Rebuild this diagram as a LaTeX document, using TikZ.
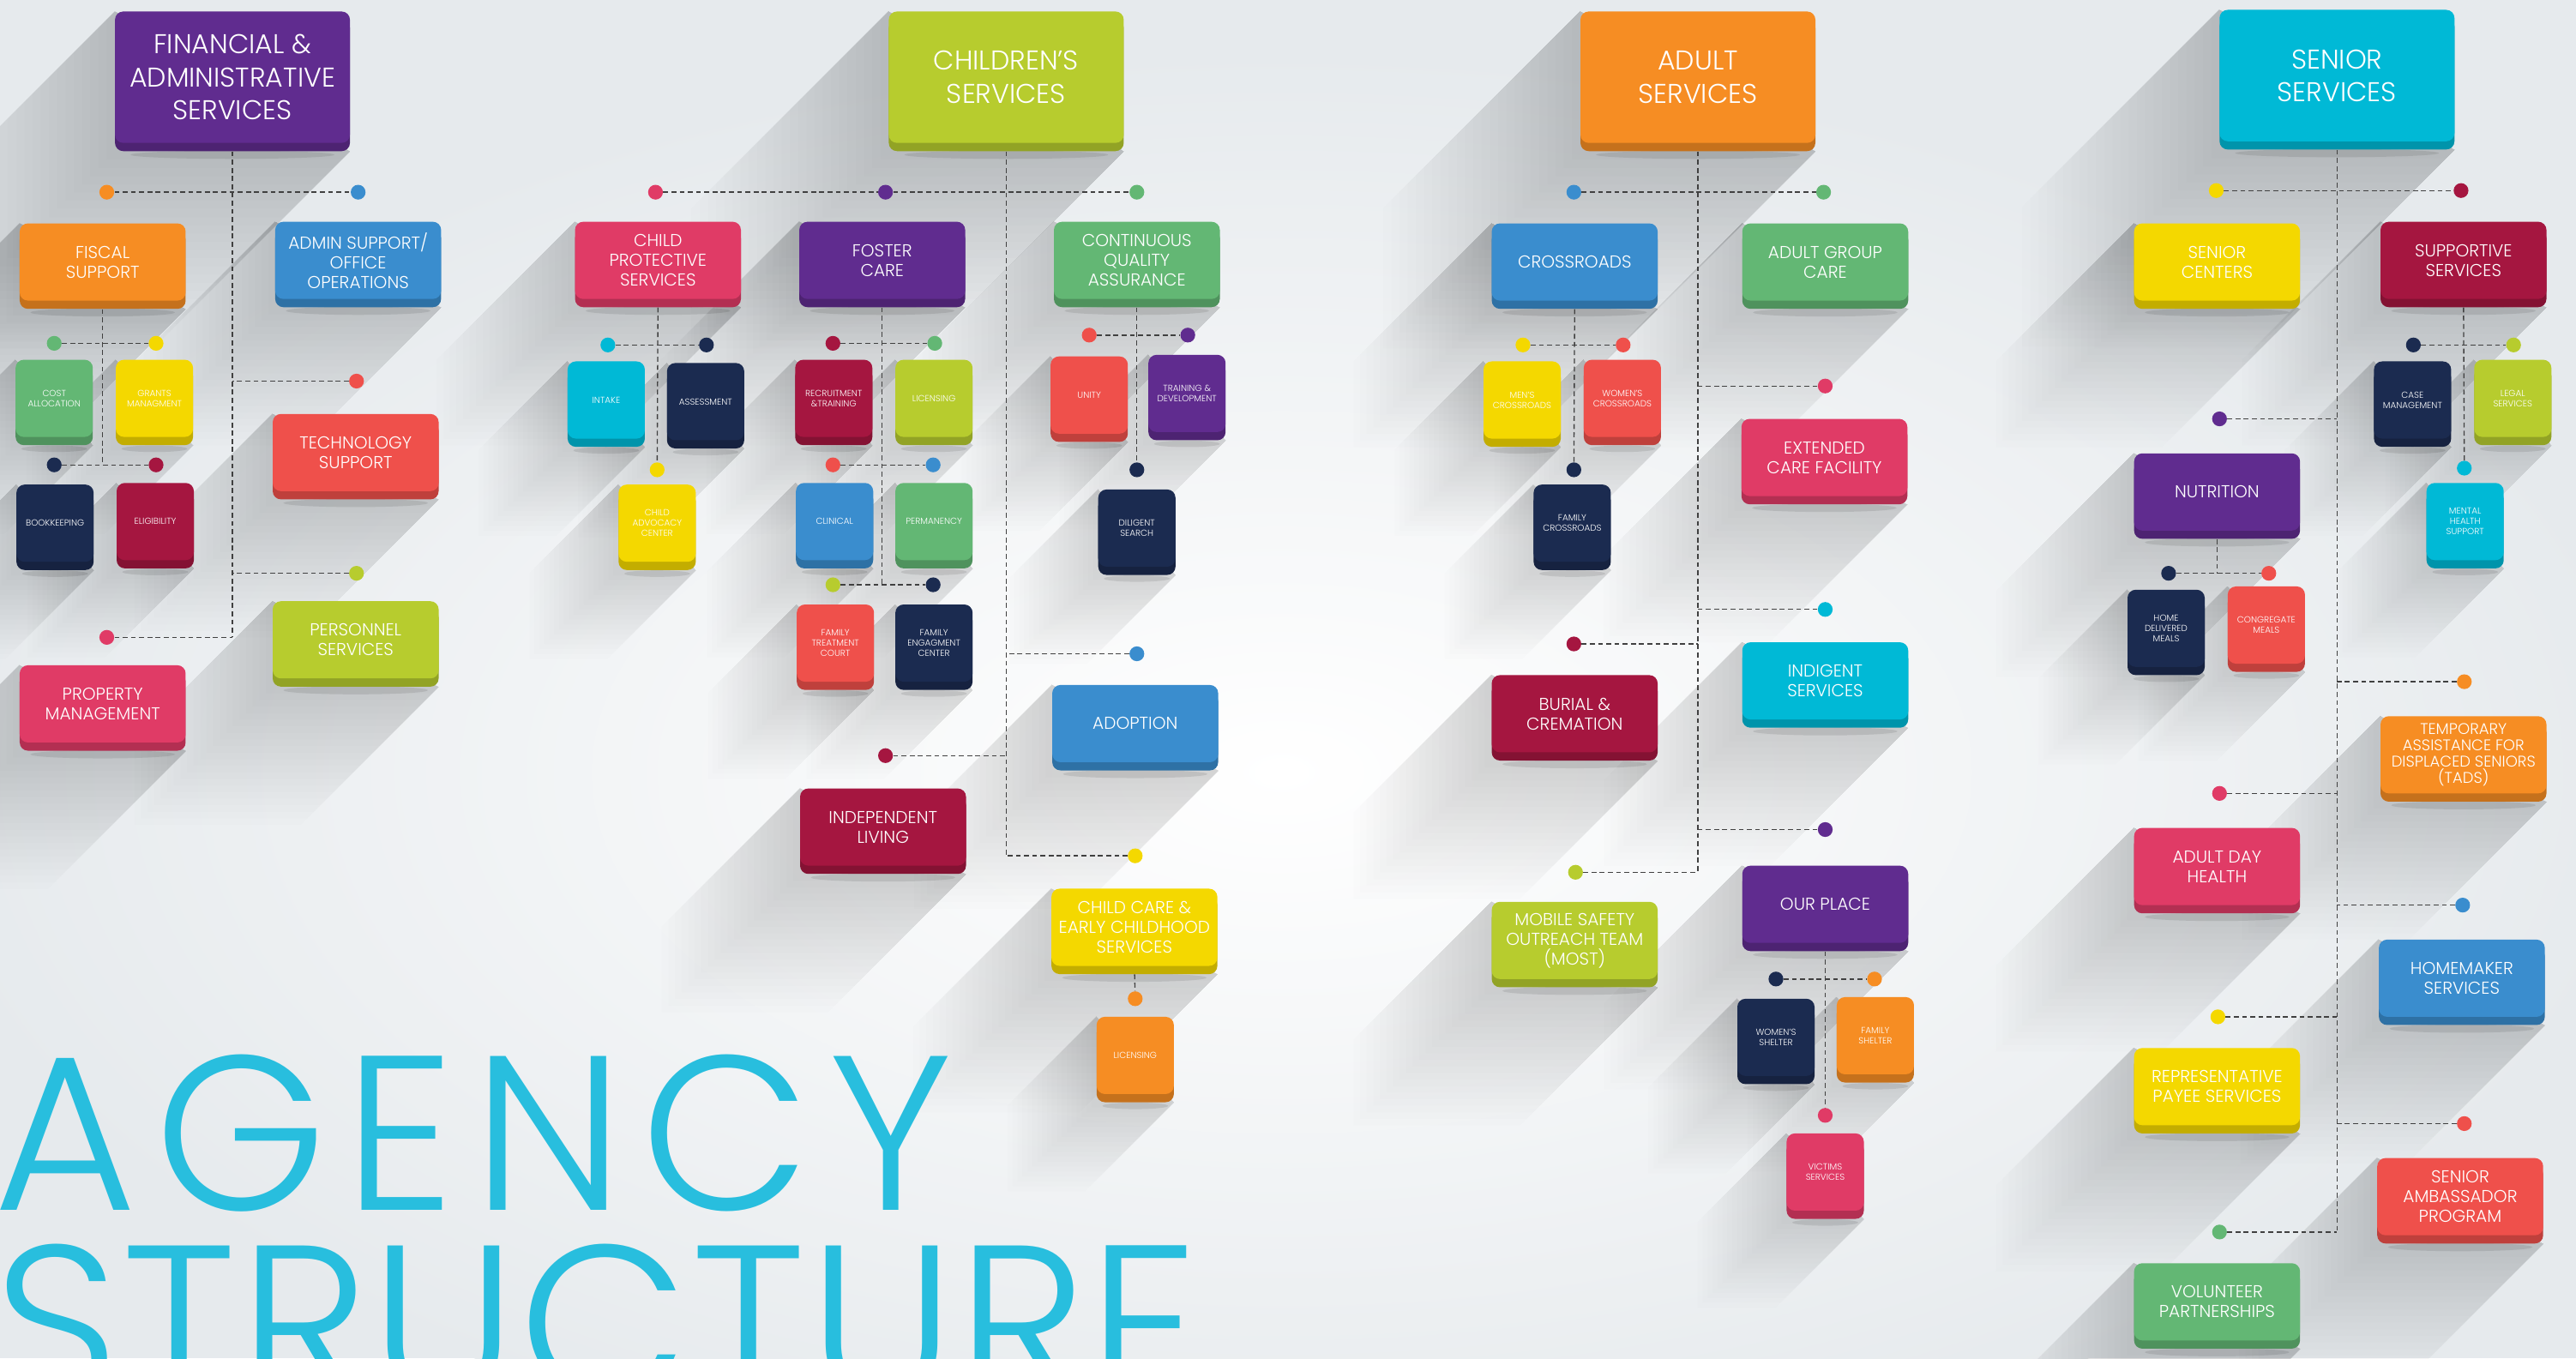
\documentclass[tikz,border=0pt]{standalone}
\usepackage{fontspec}
\setmainfont{Poppins Light}
\usepackage{xcolor}
\usepackage{tikz}
\usetikzlibrary{calc}

\definecolor{cpurple}{RGB}{96,44,143}
\definecolor{clime}{RGB}{183,204,46}
\definecolor{corange}{RGB}{246,141,35}
\definecolor{ccyan}{RGB}{0,185,214}
\definecolor{cblue}{RGB}{58,141,206}
\definecolor{cred}{RGB}{239,80,75}
\definecolor{cpink}{RGB}{224,59,102}
\definecolor{ccrimson}{RGB}{165,22,64}
\definecolor{cnavy}{RGB}{27,43,80}
\definecolor{cgreen}{RGB}{99,183,116}
\definecolor{cyellow}{RGB}{244,216,0}
\definecolor{ctitle}{RGB}{40,190,222}
\definecolor{bgcol}{RGB}{230,234,237}

\pgfdeclarelayer{bg}
\pgfdeclarelayer{shade}
\pgfdeclarelayer{links}
\pgfsetlayers{bg,shade,links,main}

\tikzset{
	card/.style={rectangle, rounded corners=5pt, minimum width=101pt, minimum height=47pt, inner sep=1pt, fill=#1, text=white, align=center, font=\fontsize{10.5}{12}\selectfont, preaction={fill=#1!80!black, transform canvas={yshift=-5pt}}},
	minicard/.style={card=#1, minimum width=47pt, font=\fontsize{5.4}{6.3}\selectfont},
	headcard/.style={card=#1, minimum width=143pt, minimum height=80pt, font=\fontsize{16.5}{20}\selectfont},
	bullet/.style={circle, fill=#1, minimum size=9pt, inner sep=0pt},
	link/.style={draw=black!75, line width=0.7pt, dash pattern=on 3pt off 2pt},
	titletext/.style={anchor=base west, inner sep=0pt, text=ctitle, font=\fontsize{134}{134}\selectfont},
	longshade/.style={black, opacity=0.006},
	undershade/.style={black, opacity=0.09},
}

\begin{document}
\begin{tikzpicture}[x=1pt,y=-1pt]
	\useasboundingbox (0,0) rectangle (1568,827);
	\begin{pgfonlayer}{bg}
		\fill[bgcol] (0,0) rectangle (1568,827);
		\shade[inner color=white, outer color=bgcol] (780,470) ellipse [x radius=840pt, y radius=440pt];
	\end{pgfonlayer}

	% title
	\node[titletext] at (-4,737)(title1){\addfontfeatures{LetterSpace=8}AGENCY};
	\node[titletext] at (-4,852)(title2){\addfontfeatures{LetterSpace=1.2}STRUCTURE};

	% financial & administrative
	\node[headcard=cpurple] at (141.5,47)(fin){FINANCIAL \&\\ADMINISTRATIVE\\SERVICES};
	\node[card=corange] at (62.5,159.5)(fiscal){FISCAL\\SUPPORT};
	\node[card=cblue] at (218,158.5)(admin){ADMIN SUPPORT/\\OFFICE\\OPERATIONS};
	\node[minicard=cgreen] at (33,242.5)(cost){COST\\ALLOCATION};
	\node[minicard=cyellow] at (94,242.5)(grants){GRANTS\\MANAGMENT};
	\node[minicard=cnavy] at (33.5,318.5)(book){BOOKKEEPING};
	\node[minicard=ccrimson] at (94.5,317.5)(elig){ELIGIBILITY};
	\node[card=cred] at (216.5,275.5)(tech){TECHNOLOGY\\SUPPORT};
	\node[card=clime] at (216.5,389.5)(pers){PERSONNEL\\SERVICES};
	\node[card=cpink] at (62.5,428.5)(prop){PROPERTY\\MANAGEMENT};
	\node[bullet=corange] at (65,117)(fiscal-d){};
	\node[bullet=cblue] at (218,117)(admin-d){};
	\node[bullet=cgreen] at (33,209)(cost-d){};
	\node[bullet=cyellow] at (95,209)(grants-d){};
	\node[bullet=cnavy] at (33,283)(book-d){};
	\node[bullet=ccrimson] at (95,283)(elig-d){};
	\node[bullet=cred] at (217,232)(tech-d){};
	\node[bullet=clime] at (217,349)(pers-d){};
	\node[bullet=cpink] at (65,388)(prop-d){};

	% children's services
	\node[headcard=clime] at (612.5,47)(child){CHILDREN’S\\SERVICES};
	\node[card=cpink] at (400.5,158.5)(cps){CHILD\\PROTECTIVE\\SERVICES};
	\node[card=cpurple] at (537,158.5)(foster){FOSTER\\CARE};
	\node[card=cgreen] at (692,158.5)(cqa){CONTINUOUS\\QUALITY\\ASSURANCE};
	\node[minicard=ccyan] at (369,243.5)(intake){INTAKE};
	\node[minicard=cnavy] at (429.5,244.5)(assess){ASSESSMENT};
	\node[minicard=cyellow] at (400,318.5)(cac){CHILD\\ADVOCACY\\CENTER};
	\node[minicard=ccrimson] at (507.5,242.5)(recruit){RECRUITMENT\\\&TRAINING};
	\node[minicard=clime] at (568.5,242.5)(lic1){LICENSING};
	\node[minicard=cblue] at (508,317.5)(clin){CLINICAL};
	\node[minicard=cgreen] at (568.5,317.5)(perm){PERMANENCY};
	\node[minicard=cred] at (508.5,391.5)(ftc){FAMILY\\TREATMENT\\COURT};
	\node[minicard=cnavy] at (568.5,391.5)(fec){FAMILY\\ENGAGMENT\\CENTER};
	\node[minicard=cred] at (663,240.5)(unity){UNITY};
	\node[minicard=cpurple] at (722.5,239.5)(train){TRAINING \&\\DEVELOPMENT};
	\node[minicard=cnavy] at (692,321.5)(search){DILIGENT\\SEARCH};
	\node[card=cblue] at (691,440.5)(adopt){ADOPTION};
	\node[card=ccrimson] at (537.5,503.5)(indep){INDEPENDENT\\LIVING};
	\node[card=cyellow] at (690.5,564.5)(care){CHILD CARE \&\\EARLY CHILDHOOD\\SERVICES};
	\node[minicard=corange] at (691,642.5)(lic2){LICENSING};
	\node[bullet=cpink] at (399,117)(cps-d){};
	\node[bullet=cpurple] at (539,117)(foster-d){};
	\node[bullet=cgreen] at (692,117)(cqa-d){};
	\node[bullet=ccyan] at (370,210)(intake-d){};
	\node[bullet=cnavy] at (430,210)(assess-d){};
	\node[bullet=cyellow] at (400,286)(cac-d){};
	\node[bullet=ccrimson] at (507,209)(recruit-d){};
	\node[bullet=cgreen] at (569,209)(lic1-d){};
	\node[bullet=cred] at (507,283)(clin-d){};
	\node[bullet=cblue] at (568,283)(perm-d){};
	\node[bullet=clime] at (507,356)(ftc-d){};
	\node[bullet=cnavy] at (568,356)(fec-d){};
	\node[bullet=cred] at (663,204)(unity-d){};
	\node[bullet=cpurple] at (723,204)(train-d){};
	\node[bullet=cnavy] at (692,286)(search-d){};
	\node[bullet=cblue] at (692,398)(adopt-d){};
	\node[bullet=ccrimson] at (539,460)(indep-d){};
	\node[bullet=cyellow] at (691,521)(care-d){};
	\node[bullet=corange] at (691,608)(lic2-d){};

	% adult services
	\node[headcard=corange] at (1033.5,47)(adult){ADULT\\SERVICES};
	\node[card=cblue] at (958.5,159.5)(cross){CROSSROADS};
	\node[card=cgreen] at (1111,159.5)(agc){ADULT GROUP\\CARE};
	\node[minicard=cyellow] at (926.5,243.5)(mens){MEN’S\\CROSSROADS};
	\node[minicard=cred] at (987.5,242.5)(womens){WOMEN’S\\CROSSROADS};
	\node[minicard=cnavy] at (957,318.5)(famcross){FAMILY\\CROSSROADS};
	\node[card=cpink] at (1110.5,278.5)(ecf){EXTENDED\\CARE FACILITY};
	\node[card=ccrimson] at (958.5,434.5)(burial){BURIAL \&\\CREMATION};
	\node[card=ccyan] at (1111,414.5)(indig){INDIGENT\\SERVICES};
	\node[card=cpurple] at (1111,550.5)(ourplace){OUR PLACE};
	\node[card=clime] at (958.5,572.5)(most){MOBILE SAFETY\\OUTREACH TEAM\\(MOST)};
	\node[minicard=cnavy] at (1081,631.5)(wshelter){WOMEN’S\\SHELTER};
	\node[minicard=corange] at (1141.5,630.5)(fshelter){FAMILY\\SHELTER};
	\node[minicard=cpink] at (1111,713.5)(victims){VICTIMS\\SERVICES};
	\node[bullet=cblue] at (958,117)(cross-d){};
	\node[bullet=cgreen] at (1110,117)(agc-d){};
	\node[bullet=cyellow] at (927,210)(mens-d){};
	\node[bullet=cred] at (988,210)(womens-d){};
	\node[bullet=cnavy] at (958,286)(famcross-d){};
	\node[bullet=cpink] at (1111,235)(ecf-d){};
	\node[bullet=ccrimson] at (958,392)(burial-d){};
	\node[bullet=ccyan] at (1111,371)(indig-d){};
	\node[bullet=cpurple] at (1111,505)(ourplace-d){};
	\node[bullet=clime] at (959,531)(most-d){};
	\node[bullet=cnavy] at (1081,596)(wshelter-d){};
	\node[bullet=corange] at (1141,596)(fshelter-d){};
	\node[bullet=cpink] at (1111,679)(victims-d){};

	% senior services
	\node[headcard=ccyan] at (1422.5,46)(senior){SENIOR\\SERVICES};
	\node[card=cyellow] at (1349.5,159.5)(scent){SENIOR\\CENTERS};
	\node[card=ccrimson] at (1499.5,158.5)(supp){SUPPORTIVE\\SERVICES};
	\node[minicard=cnavy] at (1468.5,243.5)(casem){CASE\\MANAGEMENT};
	\node[minicard=clime] at (1529.5,242.5)(legal){LEGAL\\SERVICES};
	\node[minicard=ccyan] at (1500.5,317.5)(mhs){MENTAL\\HEALTH\\SUPPORT};
	\node[card=cpurple] at (1349.5,299.5)(nutr){NUTRITION};
	\node[minicard=cnavy] at (1318.5,382.5)(hdm){HOME\\DELIVERED\\MEALS};
	\node[minicard=cred] at (1379.5,380.5)(congr){CONGREGATE\\MEALS};
	\node[card=corange, font=\fontsize{9.4}{9.8}\selectfont] at (1499.5,459.5)(tads){TEMPORARY\\ASSISTANCE FOR\\DISPLACED SENIORS\\(TADS)};
	\node[card=cpink] at (1349.5,527.5)(adh){ADULT DAY\\HEALTH};
	\node[card=cblue] at (1498.5,595.5)(homem){HOMEMAKER\\SERVICES};
	\node[card=cyellow] at (1349.5,661.5)(rps){REPRESENTATIVE\\PAYEE SERVICES};
	\node[card=cred] at (1497.5,728.5)(sap){SENIOR\\AMBASSADOR\\PROGRAM};
	\node[card=cgreen] at (1349.5,792.5)(volun){VOLUNTEER\\PARTNERSHIPS};
	\node[bullet=cyellow] at (1349,116)(scent-d){};
	\node[bullet=ccrimson] at (1498,116)(supp-d){};
	\node[bullet=cnavy] at (1469,210)(casem-d){};
	\node[bullet=clime] at (1530,210)(legal-d){};
	\node[bullet=ccyan] at (1500,285)(mhs-d){};
	\node[bullet=cpurple] at (1351,255)(nutr-d){};
	\node[bullet=cnavy] at (1320,349)(hdm-d){};
	\node[bullet=cred] at (1381,349)(congr-d){};
	\node[bullet=corange] at (1500,415)(tads-d){};
	\node[bullet=cpink] at (1351,483)(adh-d){};
	\node[bullet=cblue] at (1499,551)(homem-d){};
	\node[bullet=cyellow] at (1350,619)(rps-d){};
	\node[bullet=cred] at (1500,684)(sap-d){};
	\node[bullet=cgreen] at (1351,750)(volun-d){};

	% dashed connectors
	\begin{pgfonlayer}{links}
		\draw[link] (fin.south) -- (prop-d -| fin.south);
		\draw[link] (fiscal-d) -- (admin-d);
		\draw[link] (tech-d) -- (tech-d -| fin.south);
		\draw[link] (pers-d) -- (pers-d -| fin.south);
		\draw[link] (prop-d) -- (prop-d -| fin.south);
		\draw[link] (fiscal.south) -- (book-d -| fiscal.south);
		\draw[link] (cost-d) -- (grants-d);
		\draw[link] (book-d) -- (elig-d);

		\draw[link] (child.south) -- (care-d -| child.south);
		\draw[link] (cps-d) -- (cqa-d);
		\draw[link] (cps.south) -- (cac-d);
		\draw[link] (intake-d) -- (assess-d);
		\draw[link] (foster.south) -- (ftc-d -| foster.south);
		\draw[link] (recruit-d) -- (lic1-d);
		\draw[link] (clin-d) -- (perm-d);
		\draw[link] (ftc-d) -- (fec-d);
		\draw[link] (cqa.south) -- (search-d);
		\draw[link] (unity-d) -- (train-d);
		\draw[link] (adopt-d) -- (adopt-d -| child.south);
		\draw[link] (indep-d) -- (indep-d -| child.south);
		\draw[link] (care-d) -- (care-d -| child.south);
		\draw[link] (care.south) -- (lic2-d);

		\draw[link] (adult.south) -- (most-d -| adult.south);
		\draw[link] (cross-d) -- (agc-d);
		\draw[link] (cross.south) -- (famcross-d);
		\draw[link] (mens-d) -- (womens-d);
		\draw[link] (ecf-d) -- (ecf-d -| adult.south);
		\draw[link] (burial-d) -- (burial-d -| adult.south);
		\draw[link] (indig-d) -- (indig-d -| adult.south);
		\draw[link] (ourplace-d) -- (ourplace-d -| adult.south);
		\draw[link] (most-d) -- (most-d -| adult.south);
		\draw[link] (ourplace.south) -- (victims-d);
		\draw[link] (wshelter-d) -- (fshelter-d);

		\draw[link] (senior.south) -- (volun-d -| senior.south);
		\draw[link] (scent-d) -- (supp-d);
		\draw[link] (supp.south) -- (mhs-d);
		\draw[link] (casem-d) -- (legal-d);
		\draw[link] (nutr-d) -- (nutr-d -| senior.south);
		\draw[link] (nutr.south) -- (hdm-d -| nutr.south);
		\draw[link] (hdm-d) -- (congr-d);
		\draw[link] (tads-d) -- (tads-d -| senior.south);
		\draw[link] (adh-d) -- (adh-d -| senior.south);
		\draw[link] (homem-d) -- (homem-d -| senior.south);
		\draw[link] (rps-d) -- (rps-d -| senior.south);
		\draw[link] (sap-d) -- (sap-d -| senior.south);
		\draw[link] (volun-d) -- (volun-d -| senior.south);
	\end{pgfonlayer}

	% long shadows, soft steps, plus a dark strip under each card
	\begin{pgfonlayer}{shade}
		\foreach \n in {fin,child,adult,senior}{
			\foreach \l in {5,10,...,120}
				\fill[longshade] (\n.north west) -- ++(-\l,\l) |- ($(\n.south east)+(-\l,\l+5)$) -- ($(\n.south east)+(0,5)$) -- cycle;
			\fill[undershade] ($(\n.south)+(0,7)$) ellipse [x radius=62pt, y radius=2.5pt];
		}
		\foreach \n in {fiscal,admin,tech,pers,prop,cps,foster,cqa,adopt,indep,care,cross,agc,ecf,burial,indig,ourplace,most,scent,supp,nutr,tads,adh,homem,rps,sap,volun}{
			\foreach \l in {4,8,...,84}
				\fill[longshade] (\n.north west) -- ++(-\l,\l) |- ($(\n.south east)+(-\l,\l+5)$) -- ($(\n.south east)+(0,5)$) -- cycle;
			\fill[undershade] ($(\n.south)+(0,7)$) ellipse [x radius=44pt, y radius=2.5pt];
		}
		\foreach \n in {cost,grants,book,elig,intake,assess,cac,recruit,lic1,clin,perm,ftc,fec,unity,train,search,lic2,mens,womens,famcross,wshelter,fshelter,victims,casem,legal,mhs,hdm,congr}{
			\foreach \l in {3,6,...,54}
				\fill[black, opacity=0.007] (\n.north west) -- ++(-\l,\l) |- ($(\n.south east)+(-\l,\l+5)$) -- ($(\n.south east)+(0,5)$) -- cycle;
			\fill[undershade] ($(\n.south)+(0,7)$) ellipse [x radius=20pt, y radius=2pt];
		}
	\end{pgfonlayer}
\end{tikzpicture}
\end{document}
